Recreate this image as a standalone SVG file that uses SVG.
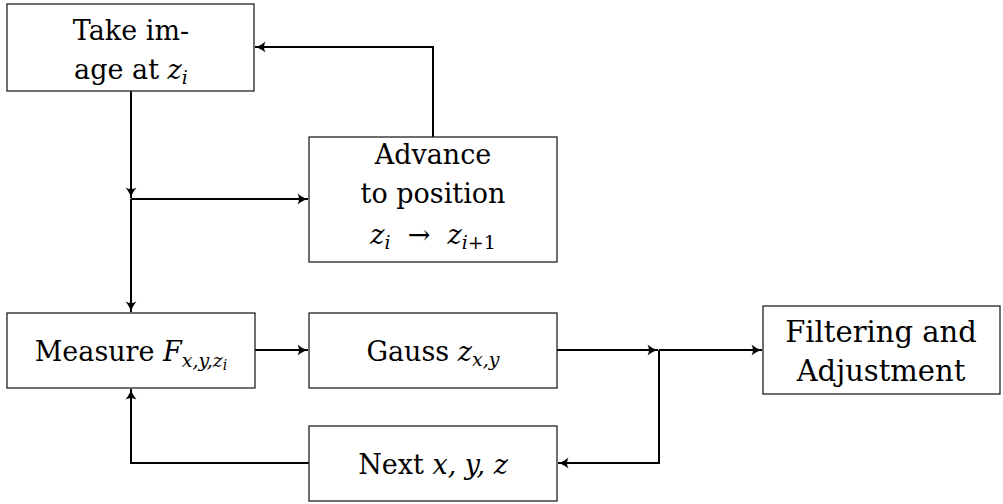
<svg xmlns="http://www.w3.org/2000/svg" width="1003" height="504" viewBox="0 0 1003 504">
<style>
.box{fill:#fff;stroke:#222;stroke-width:1.3}
.t{font-family:"DejaVu Serif",serif;font-size:27px;fill:#000;text-anchor:middle}
.m{font-style:italic}
.s{font-size:19px;font-style:italic}
.c{fill:none;stroke:#000;stroke-width:2}
</style>
<defs>
<marker id="a" markerWidth="14" markerHeight="14" refX="11" refY="7" orient="auto" markerUnits="userSpaceOnUse">
<path d="M0.5,1.5 Q6,6 11,7 Q6,8 0.5,12.5 Q3.5,7 0.5,1.5 Z" fill="#000"/>
</marker>
</defs>
<g id="connectors">
<path class="c" d="M131,91 V198" marker-end="url(#a)"/>
<path class="c" d="M131,199 H308" marker-end="url(#a)"/>
<path class="c" d="M131,199 V312" marker-end="url(#a)"/>
<path class="c" d="M433,137 V47 H255" marker-end="url(#a)"/>
<path class="c" d="M255,350 H308" marker-end="url(#a)"/>
<path class="c" d="M557,350 H658" marker-end="url(#a)"/>
<path class="c" d="M659,350 H762" marker-end="url(#a)"/>
<path class="c" d="M659,350 V463 H558" marker-end="url(#a)"/>
<path class="c" d="M309,463 H131 V389" marker-end="url(#a)"/>
</g>
<g id="take">
<rect class="box" x="7" y="4" width="247" height="87"/>
<text class="t" x="131" y="40">Take im-</text>
<text class="t" x="131" y="79">age at <tspan class="m">z</tspan><tspan class="s" dy="5">i</tspan></text>
</g>
<g id="advance">
<rect class="box" x="309" y="137" width="248" height="125"/>
<text class="t" x="433" y="164">Advance</text>
<text class="t" x="433" y="203">to position</text>
<text class="t" x="433" y="244" xml:space="preserve"><tspan class="m">z</tspan><tspan class="s" dy="5">i</tspan><tspan dy="-5">  →  </tspan><tspan class="m">z</tspan><tspan class="s" dy="5">i</tspan><tspan dy="0" style="font-size:19px">+1</tspan></text>
</g>
<g id="measure">
<rect class="box" x="7" y="313" width="248" height="75"/>
<text class="t" x="131" y="361">Measure <tspan class="m">F</tspan><tspan class="s" dy="6">x,y,z</tspan><tspan class="s" style="font-size:14px" dy="3">i</tspan></text>
</g>
<g id="gauss">
<rect class="box" x="309" y="313" width="248" height="75"/>
<text class="t" x="433" y="361">Gauss <tspan class="m">z</tspan><tspan class="s" dy="5">x,y</tspan></text>
</g>
<g id="next">
<rect class="box" x="309" y="426" width="248" height="75"/>
<text class="t" x="433" y="474">Next <tspan class="m">x, y, z</tspan></text>
</g>
<g id="filtering">
<rect class="box" x="763" y="306" width="237" height="88"/>
<text class="t" x="881" y="342" style="font-size:29px">Filtering and</text>
<text class="t" x="881" y="381" style="font-size:29px">Adjustment</text>
</g>
</svg>
